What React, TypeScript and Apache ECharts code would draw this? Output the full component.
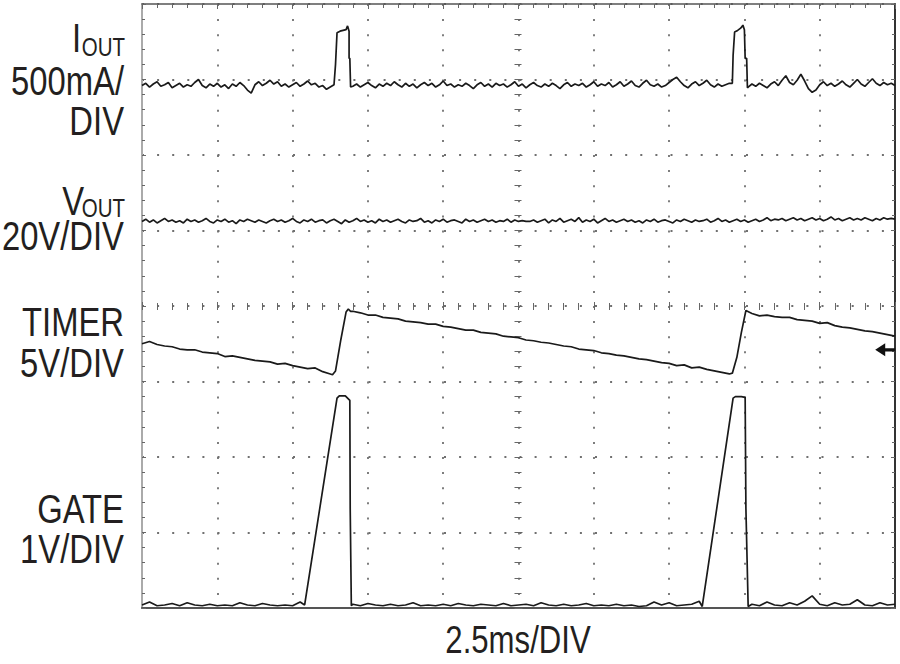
import { useEffect, useRef } from 'react';
import * as echarts from 'echarts';

// scope screenshot: 10 x 8 divisions, values in divisions
const X_DIVS = 10;
const Y_DIVS = 8;

// IOUT (500mA/DIV) baseline noise, sampled every 0.05 div
const IOUT_SEG_1 = [
  6.92, 6.95, 6.90, 6.94, 6.97, 6.91, 6.93, 6.96, 6.89, 6.92,
  6.95, 6.90, 6.93, 6.91, 6.96, 7.00, 6.92, 6.89, 6.94, 6.91,
  6.95, 6.90, 6.93, 6.88, 6.94, 6.91, 6.96, 6.92, 6.86, 6.82,
  6.93, 6.97, 6.92, 6.95, 6.99, 6.94, 6.97, 6.91, 6.94, 6.90,
  6.93, 6.96, 6.91, 6.94, 6.98, 6.93, 6.95, 6.90, 6.92, 6.87,
  6.90, 6.93,
];
const IOUT_PULSE_1 = [
  [2.55, 6.93], [2.57, 7.2], [2.59, 7.62], [2.63, 7.64], [2.67, 7.65],
  [2.71, 7.66], [2.73, 7.71], [2.75, 7.64], [2.75, 7.28], [2.76, 7.28], [2.77, 6.9],
];
const IOUT_SEG_2 = [
  6.91, 6.94, 6.90, 6.93, 6.96, 6.92, 6.89, 6.94, 6.91, 6.95,
  6.92, 6.97, 6.93, 6.90, 6.95, 6.91, 6.94, 6.89, 6.93, 6.96,
  6.92, 6.95, 6.90, 6.93, 6.98, 6.92, 6.94, 6.90, 6.93, 6.91,
  6.95, 6.92, 6.88, 6.93, 6.96, 6.91, 6.94, 6.90, 6.95, 6.92,
  6.94, 6.90, 6.93, 6.97, 6.91, 6.94, 6.89, 6.93, 6.96, 6.92,
  6.90, 6.94, 6.91, 6.95, 6.92, 6.88, 6.93, 6.96, 6.91, 6.94,
  6.92, 6.95, 6.90, 6.93, 6.97, 6.91, 6.94, 6.92, 6.96, 6.90,
  6.93, 6.97, 6.91, 6.94, 6.98, 6.92, 6.90, 6.95, 6.99, 6.93,
  6.91, 6.94, 6.90, 6.92, 6.96, 7.00, 7.03, 6.97, 6.92, 6.89,
  6.94, 6.97, 6.92, 6.95, 6.99, 6.93, 6.90, 6.94, 6.91, 6.93,
  6.95,
];
const IOUT_PULSE_2 = [
  [7.84, 6.95], [7.85, 7.32], [7.87, 7.63], [7.91, 7.65], [7.95, 7.68],
  [7.98, 7.72], [8.0, 7.66], [8.01, 7.28], [8.03, 7.28], [8.04, 6.89],
];
const IOUT_SEG_3 = [
  6.90, 6.94, 6.91, 6.95, 6.92, 6.89, 6.94, 6.97, 6.92, 6.99,
  7.05, 6.96, 6.93, 6.99, 7.07, 6.98, 6.88, 6.83, 6.86, 6.93,
  6.97, 6.92, 6.95, 6.91, 6.94, 6.98, 6.93, 6.90, 6.95, 7.00,
  6.94, 6.91, 6.96, 7.01, 6.95, 6.92, 6.96, 6.93, 6.95, 6.92,
];

// VOUT (20V/DIV), every 0.05 div
const VOUT_VALUES = [
  5.12, 5.15, 5.11, 5.14, 5.10, 5.13, 5.16, 5.12, 5.14, 5.11,
  5.13, 5.10, 5.15, 5.12, 5.14, 5.11, 5.13, 5.16, 5.12, 5.10,
  5.14, 5.12, 5.15, 5.11, 5.13, 5.09, 5.14, 5.12, 5.15, 5.13,
  5.11, 5.14, 5.12, 5.10, 5.13, 5.15, 5.12, 5.14, 5.11, 5.13,
  5.16, 5.12, 5.10, 5.14, 5.12, 5.15, 5.11, 5.13, 5.14, 5.10,
  5.13, 5.15, 5.12, 5.09, 5.14, 5.11, 5.13, 5.16, 5.12, 5.14,
  5.11, 5.13, 5.10, 5.15, 5.12, 5.14, 5.11, 5.13, 5.15, 5.12,
  5.10, 5.14, 5.12, 5.13, 5.16, 5.11, 5.13, 5.10, 5.14, 5.12,
  5.15, 5.11, 5.13, 5.14, 5.12, 5.10, 5.15, 5.12, 5.14, 5.11,
  5.13, 5.15, 5.12, 5.14, 5.11, 5.13, 5.12, 5.15, 5.11, 5.14,
  5.12, 5.13, 5.12, 5.12, 5.14, 5.11, 5.13, 5.15, 5.10, 5.14,
  5.12, 5.16, 5.11, 5.13, 5.15, 5.12, 5.17, 5.11, 5.14, 5.12,
  5.15, 5.10, 5.13, 5.16, 5.12, 5.14, 5.11, 5.13, 5.15, 5.12,
  5.14, 5.11, 5.13, 5.10, 5.14, 5.12, 5.15, 5.11, 5.13, 5.14,
  5.12, 5.10, 5.14, 5.12, 5.15, 5.13, 5.11, 5.14, 5.12, 5.13,
  5.15, 5.11, 5.13, 5.16, 5.12, 5.14, 5.11, 5.13, 5.15, 5.12,
  5.14, 5.11, 5.13, 5.15, 5.12, 5.14, 5.17, 5.13, 5.15, 5.14,
  5.16, 5.13, 5.15, 5.17, 5.14, 5.16, 5.13, 5.15, 5.17, 5.14,
  5.16, 5.13, 5.15, 5.18, 5.14, 5.16, 5.13, 5.15, 5.17, 5.14,
  5.16, 5.14, 5.17, 5.15, 5.13, 5.16, 5.14, 5.17, 5.15, 5.16,
  5.15,
];

// TIMER (5V/DIV), every 0.1 div on the ramps
const TIMER_SEG_A = [
  3.50, 3.53, 3.49, 3.47, 3.46, 3.43, 3.42, 3.42, 3.39, 3.38,
  3.37, 3.33, 3.34, 3.32, 3.30, 3.28, 3.27, 3.26, 3.23, 3.24,
  3.21, 3.19, 3.17, 3.18, 3.13, 3.10,
];
const TIMER_RISE_1 = [[2.53, 3.09], [2.57, 3.14], [2.64, 3.55], [2.71, 3.92], [2.74, 3.96], [2.77, 3.93]];
const TIMER_SEG_B = [
  3.93, 3.91, 3.88, 3.88, 3.85, 3.84, 3.83, 3.80, 3.79, 3.78,
  3.76, 3.76, 3.73, 3.72, 3.70, 3.68, 3.68, 3.65, 3.64, 3.63,
  3.60, 3.59, 3.58, 3.55, 3.54, 3.52, 3.51, 3.49, 3.47, 3.46,
  3.43, 3.42, 3.41, 3.38, 3.37, 3.35, 3.34, 3.32, 3.30, 3.29,
  3.27, 3.25, 3.24, 3.21, 3.22, 3.18, 3.19, 3.16, 3.14, 3.12,
  3.10,
];
const TIMER_RISE_2 = [[7.84, 3.11], [7.9, 3.32], [7.96, 3.65], [8.02, 3.94], [8.06, 3.92]];
const TIMER_SEG_C = [
  3.90, 3.87, 3.88, 3.86, 3.85, 3.85, 3.82, 3.81, 3.80, 3.77,
  3.78, 3.74, 3.72, 3.71, 3.69, 3.67, 3.66, 3.64, 3.62, 3.60,
];
const TIMER_MARKER = [9.87, 3.42];

// GATE (1V/DIV)
const GATE_SEG_A = [
  0.04, 0.08, 0.03, 0.04, 0.06, 0.03, 0.07, 0.04, 0.03, 0.05,
  0.03, 0.04, 0.03, 0.07, 0.04, 0.03, 0.06, 0.04, 0.03, 0.04,
  0.03, 0.08,
];
const GATE_PULSE_1 = [
  [2.16, 0.04], [2.59, 2.78], [2.62, 2.81], [2.7, 2.81], [2.74, 2.77],
  [2.76, 2.75], [2.765, 1.32], [2.78, 0.03],
];
const GATE_SEG_B = [
  0.05, 0.03, 0.06, 0.04, 0.03, 0.05, 0.03, 0.04, 0.07, 0.03,
  0.04, 0.03, 0.05, 0.03, 0.06, 0.04, 0.03, 0.05, 0.04, 0.03,
  0.06, 0.03, 0.04, 0.05, 0.03, 0.07, 0.04, 0.03, 0.05, 0.03,
  0.04, 0.06, 0.03, 0.04, 0.03, 0.05, 0.03, 0.04, 0.02, 0.03,
  0.08, 0.04, 0.07, 0.03, 0.04, 0.05, 0.09,
];
const GATE_PULSE_2 = [
  [7.44, 0.02], [7.85, 2.78], [7.88, 2.8], [7.96, 2.8], [8.01, 2.79], [8.02, 1.32], [8.05, 0.02],
];
const GATE_SEG_C = [
  0.05, 0.03, 0.08, 0.04, 0.03, 0.07, 0.04, 0.09, 0.16, 0.05,
  0.03, 0.07, 0.04, 0.05, 0.11, 0.04, 0.03, 0.07, 0.04, 0.05,
];

const FONT = '"Liberation Sans", Arial, sans-serif';
const NARROW = 0.82; // condensed look of the original lettering
const INK = '#231f20';
const TRACE = '#1a1a1a';
const GRID_DOT = '#707070';

const sampled = (start: number, step: number, values: number[]) =>
  values.map((v, i) => [+(start + i * step).toFixed(3), v]);

function label(text: string, x: number, y: number, size = 40, align = 'right') {
  return {
    type: 'text',
    x,
    y,
    scaleX: NARROW,
    silent: true,
    style: { text, fontSize: size, fontFamily: FONT, fill: INK, align, verticalAlign: 'middle' },
  };
}

export default function App() {
  const ref = useRef<HTMLDivElement>(null);

  useEffect(() => {
    if (!ref.current) return;
    const chart = echarts.init(ref.current, null, { renderer: 'svg' });

    const iout = [
      ...sampled(0, 0.05, IOUT_SEG_1), ...IOUT_PULSE_1,
      ...sampled(2.8, 0.05, IOUT_SEG_2), ...IOUT_PULSE_2,
      ...sampled(8.05, 0.05, IOUT_SEG_3),
    ];
    const vout = sampled(0, 0.05, VOUT_VALUES);
    const timer = [
      ...sampled(0, 0.1, TIMER_SEG_A), ...TIMER_RISE_1,
      ...sampled(2.8, 0.1, TIMER_SEG_B), ...TIMER_RISE_2,
      ...sampled(8.1, 0.1, TIMER_SEG_C),
    ];
    const gate = [
      ...sampled(0, 0.1, GATE_SEG_A), ...GATE_PULSE_1,
      ...sampled(2.8, 0.1, GATE_SEG_B), ...GATE_PULSE_2,
      ...sampled(8.1, 0.1, GATE_SEG_C),
    ];

    const dotted = { color: GRID_DOT, width: 1.8, type: [2, 13.1] };
    const hidden = { show: false };
    const noLine = { show: false, onZero: false };
    const baseX = { type: 'value', min: 0, max: X_DIVS, interval: 1, axisLabel: hidden, splitLine: hidden };
    const baseY = { type: 'value', min: 0, max: Y_DIVS, interval: 1, axisLabel: hidden, splitLine: hidden };
    const tickStyle = { color: '#666', width: 1 };

    const trace = (name: string, data: number[][]) => ({
      name,
      type: 'line',
      data,
      showSymbol: false,
      silent: true,
      lineStyle: { color: TRACE, width: 1.7 },
    });

    chart.setOption({
      animation: false,
      backgroundColor: '#fff',
      grid: { left: 142, right: 5, top: 4, bottom: 56 },
      xAxis: [
        {
          ...baseX,
          position: 'bottom',
          axisLine: { show: true, onZero: false, lineStyle: { color: '#555', width: 2 } },
          axisTick: hidden,
          splitLine: { show: true, lineStyle: dotted },
        },
        {
          ...baseX,
          position: 'top',
          axisLine: { show: true, onZero: false, lineStyle: { color: '#555', width: 1.5 } },
          axisTick: { show: true, inside: true, length: 5, lineStyle: tickStyle },
          minorTick: { show: true, splitNumber: 5, length: 4, lineStyle: tickStyle },
        },
        {
          // cross ticks on the centre horizontal line
          ...baseX,
          position: 'bottom',
          offset: -298,
          axisLine: noLine,
          axisTick: { show: true, inside: true, length: 8, lineStyle: tickStyle },
          minorTick: { show: true, splitNumber: 5, length: 7, lineStyle: tickStyle },
        },
      ],
      yAxis: [
        {
          ...baseY,
          position: 'left',
          axisLine: { show: true, onZero: false, lineStyle: { color: '#aaa', width: 2 } },
          axisTick: { show: true, inside: true, length: 4, lineStyle: tickStyle },
          minorTick: { show: true, splitNumber: 5, length: 3, lineStyle: tickStyle },
          splitLine: { show: true, lineStyle: dotted },
        },
        {
          ...baseY,
          position: 'right',
          axisLine: { show: true, onZero: false, lineStyle: { color: '#333', width: 2 } },
          axisTick: { show: true, inside: true, length: 4, lineStyle: tickStyle },
          minorTick: { show: true, splitNumber: 5, length: 3, lineStyle: tickStyle },
        },
        {
          // cross ticks on the centre vertical line
          ...baseY,
          position: 'left',
          offset: -372.5,
          axisLine: noLine,
          axisTick: { show: true, inside: true, length: 8, lineStyle: tickStyle },
          minorTick: { show: true, splitNumber: 5, length: 7, lineStyle: tickStyle },
        },
      ],
      series: [
        trace('IOUT', iout),
        trace('VOUT', vout),
        {
          ...trace('TIMER', timer),
          markPoint: {
            silent: true,
            symbol: 'path://M0,6 L9,0 L9,4.5 L18,4.5 L18,7.5 L9,7.5 L9,12 Z',
            symbolSize: [20, 13],
            itemStyle: { color: '#111' },
            label: hidden,
            data: [{ coord: TIMER_MARKER }],
          },
        },
        trace('GATE', gate),
      ],
      graphic: [
        label('I', 81, 38),
        label('OUT', 125, 47, 25),
        label('500mA/', 124, 81),
        label('DIV', 124, 121),
        label('V', 84, 201),
        label('OUT', 125, 208, 25),
        label('20V/DIV', 124, 236),
        label('TIMER', 124, 322),
        label('5V/DIV', 124, 363),
        label('GATE', 124, 509),
        label('1V/DIV', 124, 549),
        label('2.5ms/DIV', 518, 640, 38, 'center'),
      ],
    });

    return () => chart.dispose();
  }, []);

  return (
    <div
      ref={ref}
      style={{ position: 'fixed', left: 0, top: 0, width: 900, height: 664, background: '#fff' }}
    />
  );
}
